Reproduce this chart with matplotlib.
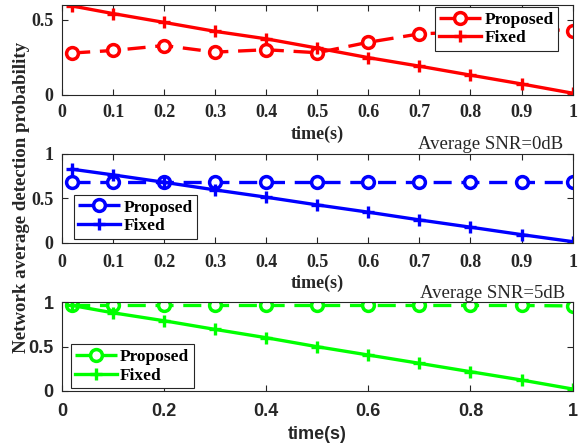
import numpy as np
import matplotlib
matplotlib.use("Agg")
import matplotlib.pyplot as plt

# data
t = [0.02, 0.1, 0.2, 0.3, 0.4, 0.5, 0.6, 0.7, 0.8, 0.9, 1.0]

prop_top = [0.278, 0.295, 0.328, 0.284, 0.300, 0.280, 0.350, 0.406, 0.42, 0.44, 0.428]
fixed_top = [0.593, 0.542, 0.483, 0.423, 0.373, 0.311, 0.247, 0.190, 0.130, 0.071, 0.009]

prop_mid = [0.681, 0.681, 0.681, 0.681, 0.681, 0.681, 0.681, 0.681, 0.681, 0.681, 0.681]
fixed_mid = [0.827, 0.763, 0.680, 0.594, 0.512, 0.425, 0.343, 0.256, 0.174, 0.090, 0.011]

prop_bot = [0.965, 0.965, 0.965, 0.965, 0.965, 0.965, 0.965, 0.965, 0.965, 0.965, 0.96]
fixed_bot = [0.965, 0.882, 0.792, 0.694, 0.600, 0.498, 0.404, 0.310, 0.215, 0.121, 0.019]

xt_fine = [0, 0.1, 0.2, 0.3, 0.4, 0.5, 0.6, 0.7, 0.8, 0.9, 1]
xt_fine_lab = ["0", "0.1", "0.2", "0.3", "0.4", "0.5", "0.6", "0.7", "0.8", "0.9", "1"]
xt_coarse = [0, 0.2, 0.4, 0.6, 0.8, 1]
xt_coarse_lab = ["0", "0.2", "0.4", "0.6", "0.8", "1"]

plt.rcParams['lines.scale_dashes'] = False
serif = 'Liberation Serif'
sans = 'Liberation Sans'
edge = '#262626'

fig = plt.figure(figsize=(5.79, 4.46), dpi=100)
ax1 = fig.add_axes([0.107, 0.788, 0.882, 0.201])
ax2 = fig.add_axes([0.107, 0.456, 0.882, 0.199])
ax3 = fig.add_axes([0.107, 0.124, 0.882, 0.198])


def draw(ax, prop, fixed, col, ylim, yt, ytl, xt, xtl, fam, legloc, anchor, xpad, lpad):
    ax.plot(t, prop, color=col, lw=2.4, dashes=(13, 7), marker='o', ms=8.5,
            mfc='white', mew=2.5, label='Proposed')
    ax.plot(t, fixed, color=col, lw=2.4, marker='+', ms=9, mew=2.4, label='Fixed')
    ax.set_xlim(0, 1)
    ax.set_ylim(*ylim)
    ax.set_xticks(xt)
    ax.set_xticklabels(xtl, family=fam, fontweight='bold', fontsize=13)
    ax.set_yticks(yt)
    ax.set_yticklabels(ytl, family=fam, fontweight='bold', fontsize=13)
    ax.tick_params(direction='in', top=True, right=True, length=4, width=0.8,
                   colors=edge, pad=6)
    ax.tick_params(axis='x', pad=xpad)
    for s in ax.spines.values():
        s.set_color(edge)
        s.set_linewidth(0.8)
    ax.set_xlabel('time(s)', family=fam, fontweight='bold', fontsize=13,
                  color=edge, labelpad=lpad)
    leg = ax.legend(loc=legloc, bbox_to_anchor=anchor,
                    prop={'family': serif, 'weight': 'bold', 'size': 12.5},
                    numpoints=1, handlelength=2.4, handletextpad=0.2,
                    borderpad=0.25, labelspacing=0.15, fancybox=False,
                    framealpha=1, borderaxespad=0)
    leg.get_frame().set_edgecolor(edge)
    leg.get_frame().set_linewidth(0.8)
    leg.set_zorder(5)


draw(ax1, prop_top, fixed_top, (1, 0, 0), (0, 0.6), [0, 0.5], ["0", "0.5"],
     xt_fine, xt_fine_lab, serif, 'upper right', (0.971, 0.975), 7, 3)
draw(ax2, prop_mid, fixed_mid, (0, 0, 1), (0, 1), [0, 0.5, 1], ["0", "0.5", "1"],
     xt_fine, xt_fine_lab, serif, 'lower left', (0.0235, 0.045), 8, 3)
draw(ax3, prop_bot, fixed_bot, (0, 1, 0), (0, 1), [0, 0.5, 1], ["0", "0.5", "1"],
     xt_coarse, xt_coarse_lab, sans, 'lower left', (0.017, 0.03), 9, 4)

ax2.text(0.982, 1.01, 'Average SNR=0dB', transform=ax2.transAxes, ha='right',
         va='bottom', family=serif, fontsize=13.5, color=edge)
ax3.text(0.985, 1.01, 'Average SNR=5dB', transform=ax3.transAxes, ha='right',
         va='bottom', family=serif, fontsize=13.5, color=edge)

fig.text(0.037, 0.558, 'Network average detection probability', rotation=90,
         ha='center', va='center', family=serif, fontweight='bold',
         fontsize=13.6, color=edge)

fig.savefig('out.png', dpi=100)
